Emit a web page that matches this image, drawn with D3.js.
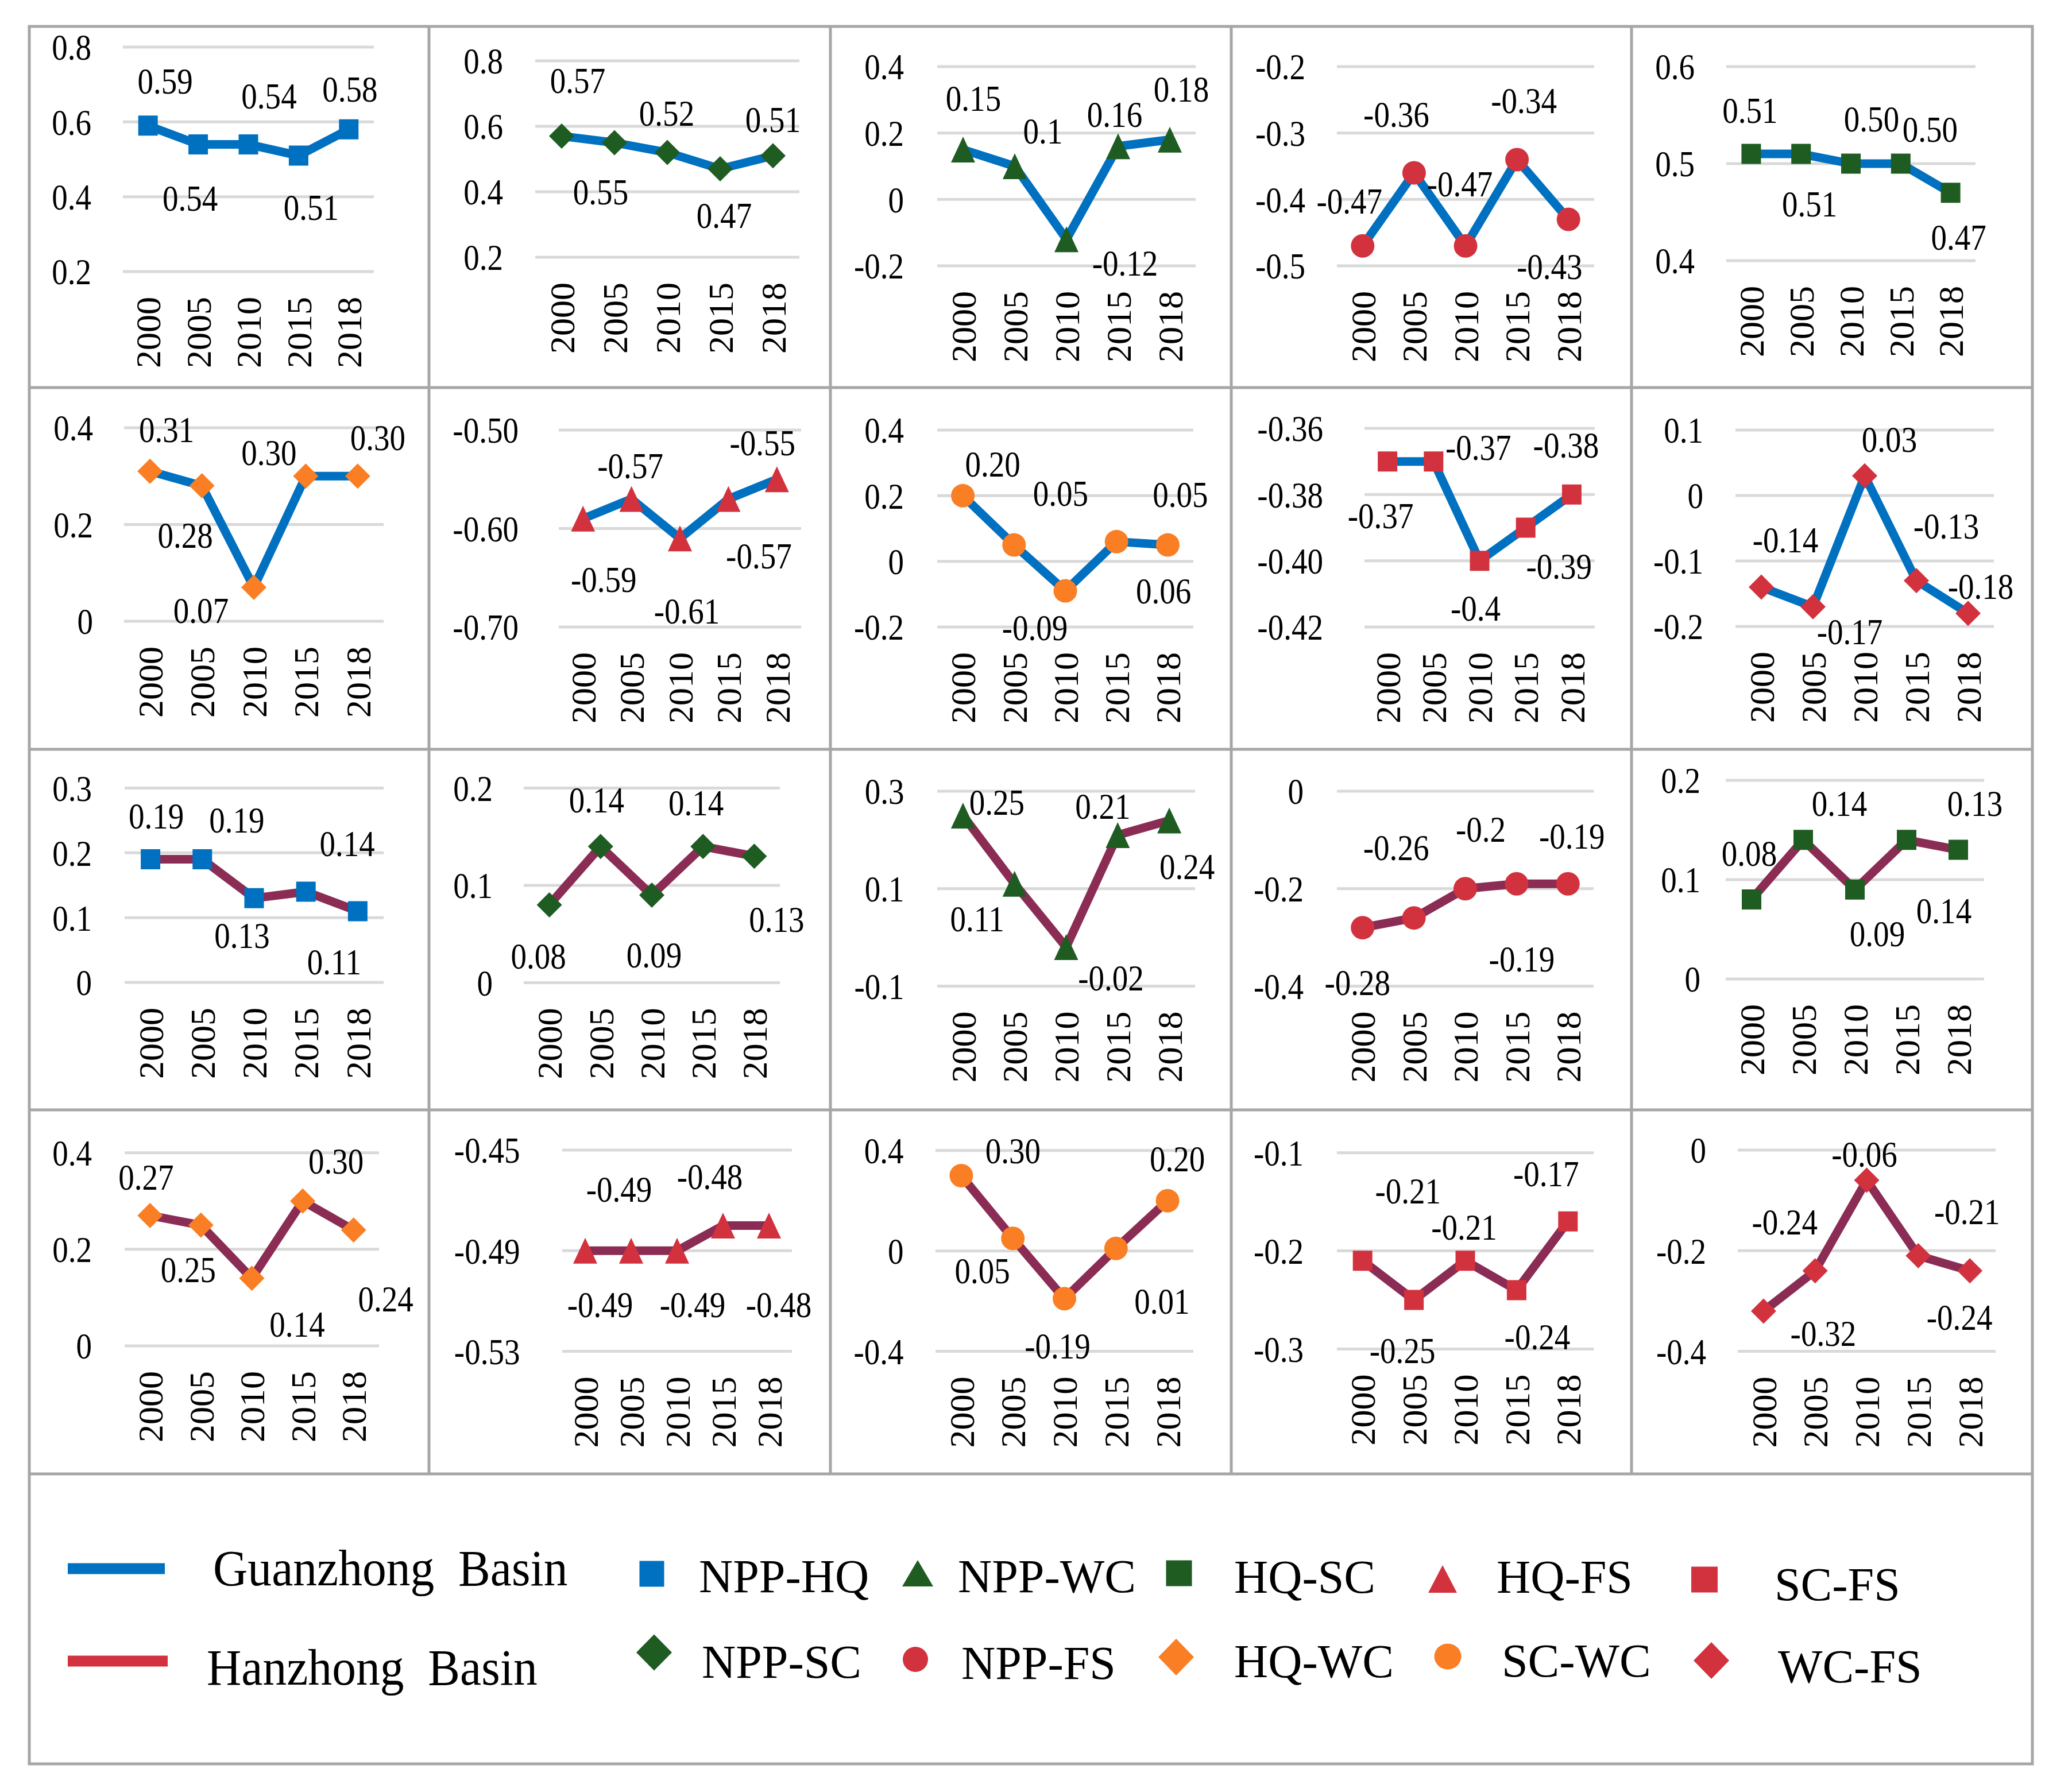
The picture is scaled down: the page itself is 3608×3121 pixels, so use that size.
<!DOCTYPE html>
<html><head><meta charset="utf-8">
<script src="https://cdn.jsdelivr.net/npm/d3@7/dist/d3.min.js"></script>
<style>html,body{margin:0;padding:0;background:#fff}svg{display:block}</style>
</head><body>
<svg id="chart" width="3608" height="3121"></svg>
<script>
// ---------------- DATA ----------------
const years = ["2000", "2005", "2010", "2015", "2018"];
const basins = ["Guanzhong Basin", "Hanzhong Basin"];
const pairNames = ["NPP-HQ", "NPP-WC", "HQ-SC", "HQ-FS", "SC-FS", "NPP-SC", "NPP-FS", "HQ-WC", "SC-WC", "WC-FS"];
// pair shown in each panel column (rows 1 & 3 / rows 2 & 4)
const colPairsA = ["NPP-HQ", "NPP-SC", "NPP-WC", "NPP-FS", "HQ-SC"];
const colPairsB = ["HQ-WC", "HQ-FS", "SC-WC", "SC-FS", "WC-FS"];

// Guanzhong Basin (rows 1-2)
const guanzhongRow1 = [
  ["0.59", "0.54", "0.54", "0.51", "0.58"],
  ["0.57", "0.55", "0.52", "0.47", "0.51"],
  ["0.15", "0.1", "-0.12", "0.16", "0.18"],
  ["-0.47", "-0.36", "-0.47", "-0.34", "-0.43"],
  ["0.51", "0.51", "0.50", "0.50", "0.47"]
];
const guanzhongRow2 = [
  ["0.31", "0.28", "0.07", "0.30", "0.30"],
  ["-0.59", "-0.57", "-0.61", "-0.57", "-0.55"],
  ["0.20", "0.05", "-0.09", "0.06", "0.05"],
  ["-0.37", "-0.37", "-0.4", "-0.39", "-0.38"],
  ["-0.14", "-0.17", "0.03", "-0.13", "-0.18"]
];
// Hanzhong Basin (rows 3-4)
const hanzhongRow3 = [
  ["0.19", "0.19", "0.13", "0.14", "0.11"],
  ["0.08", "0.14", "0.09", "0.14", "0.13"],
  ["0.25", "0.11", "-0.02", "0.21", "0.24"],
  ["-0.28", "-0.26", "-0.2", "-0.19", "-0.19"],
  ["0.08", "0.14", "0.09", "0.14", "0.13"]
];
const hanzhongRow4 = [
  ["0.27", "0.25", "0.14", "0.30", "0.24"],
  ["-0.49", "-0.49", "-0.49", "-0.48", "-0.48"],
  ["0.30", "0.05", "-0.19", "0.01", "0.20"],
  ["-0.21", "-0.25", "-0.21", "-0.24", "-0.17"],
  ["-0.32", "-0.24", "-0.06", "-0.21", "-0.24"]
];

// y-axis tick labels per panel
const ticksRow1 = [["0.8","0.6","0.4","0.2"], ["0.8","0.6","0.4","0.2"], ["0.4","0.2","0","-0.2"], ["-0.2","-0.3","-0.4","-0.5"], ["0.6","0.5","0.4"]];
const ticksRow2 = [["0.4","0.2","0"], ["-0.50","-0.60","-0.70"], ["0.4","0.2","0","-0.2"], ["-0.36","-0.38","-0.40","-0.42"], ["0.1","0","-0.1","-0.2"]];
const ticksRow3 = [["0.3","0.2","0.1","0"], ["0.2","0.1","0"], ["0.3","0.1","-0.1"], ["0","-0.2","-0.4"], ["0.2","0.1","0"]];
const ticksRow4 = [["0.4","0.2","0"], ["-0.45","-0.49","-0.53"], ["0.4","0","-0.4"], ["-0.1","-0.2","-0.3"], ["0","-0.2","-0.4"]];

// ---------------- STYLE / LAYOUT ----------------
const COL = {blue: "#0070C0", maroon: "#8B2C55", red: "#D2323D", green: "#1E5C22", orange: "#FA7E23", grid: "#D9D9D9", frame: "#A6A6A6"};
const pairShape = {"NPP-HQ": "square", "NPP-WC": "triangle", "HQ-SC": "square", "HQ-FS": "triangle", "SC-FS": "square",
                   "NPP-SC": "diamond", "NPP-FS": "circle", "HQ-WC": "diamond", "SC-WC": "circle", "WC-FS": "diamond"};
const pairColor = {"NPP-HQ": COL.blue, "NPP-WC": COL.green, "HQ-SC": COL.green, "HQ-FS": COL.red, "SC-FS": COL.red,
                   "NPP-SC": COL.green, "NPP-FS": COL.red, "HQ-WC": COL.orange, "SC-WC": COL.orange, "WC-FS": COL.red};
const basinLineColor = [COL.blue, COL.maroon];
const basinLegendColor = [COL.blue, COL.red];

const FONT = "'Liberation Serif','Times New Roman',Times,serif";
const contentX = [51, 751, 1451, 2154, 2854];
const contentY = [46, 677, 1308, 1941];
const dividersX = [51, 747, 1446, 2144, 2841, 3539];
const dividersY = [46, 675, 1305, 1933, 2567, 3072];

// per panel: [gridLeft, gridRight, gridTop, gridBottom, tickRight]
const plotBox = [
  [163,600,36,427,108], [181,641,60,402,125], [181,631,70,417,123], [174,622,70,417,119], [152,586,70,408,97],
  [165,617,68,405,111], [222,644,72,415,152], [181,627,72,415,123], [222,623,69,415,150], [168,618,72,414,112],
  [166,617,64.5,403,109], [161,607,64.5,403.5,107], [181,630,70,409.5,123.5], [174,621,70,409.5,116], [151,601,51,397,107],
  [166,609,66.7,403,109], [228,628,62,412.6,154.5], [178,627,62.7,412.6,122.6], [174,621,66.7,408.5,116], [172,621,62,412.6,117]
];
// data label offsets (px from marker)
const labelOffsets = [
  [[30,-78],[-14,93],[36,-85],[22,90],[2,-71]],
  [[28,-98],[-24,85],[-1,-69],[7,80],[0,-64]],
  [[18,-90],[49,-62],[102,41],[-6,-56],[20,-89]],
  [[-23,-79],[-31,-102],[-10,-109],[12,-103],[-33,82]],
  [[-2,-77],[15,86],[36,-78],[51,-60],[14,77]],
  [[29,-73],[-29,85],[-92,40],[-64,-42],[35,-68]],
  [[36,105],[-2,-58],[12,126],[53,99],[-25,-64]],
  [[52,-56],[81,-90],[-53,63],[82,85],[22,-88]],
  [[-12,94],[78,-25],[-7,82],[58,67],[-10,-87]],
  [[42,-83],[64,43],[43,-64],[52,-96],[22,-48]],
  [[10,-76],[60,-69],[-21,64],[72,-84],[-41,88]],
  [[-19,89],[-7,-82],[4,104],[-12,-77],[39,109]],
  [[59,-24],[-65,60],[78,53],[-26,-51],[31,80]],
  [[-9,95],[-31,-123],[27,-104],[9,130],[7,-84]],
  [[-4,-81],[63,-64],[39,76],[65,123],[29,-82]],
  [[-7,-67],[-22,77],[79,79],[58,-70],[56,119]],
  [[26,93],[-21,-108],[27,93],[-23,-86],[17,137]],
  [[90,-44],[-53,56],[-12,82],[80,91],[17,-74]],
  [[79,-122],[-20,88],[-2,-59],[36,81],[-38,-84]],
  [[104,38],[-53,-86],[-4,-46],[85,-77],[-18,80]]
];

// ---------------- HELPERS ----------------
function shapePath(shape, w, h) {
  const a = w / 2, b = h / 2;
  if (shape === "square") return `M${-a},${-b}H${a}V${b}H${-a}Z`;
  if (shape === "diamond") return `M0,${-b}L${a},0L0,${b}L${-a},0Z`;
  if (shape === "triangle") return `M0,${-b}L${a},${b}L${-a},${b}Z`;
  return `M${-a},0A${a},${b} 0 1,0 ${a},0A${a},${b} 0 1,0 ${-a},0Z`;
}
const markerSize = {square: [34, 35], diamond: [44, 44], triangle: [42, 45], circle: [41, 41]};

function hText(g, x, y, s, anchor, size, sx) {
  return g.append("text")
    .attr("transform", `translate(${x},${y}) scale(${sx},1)`)
    .attr("text-anchor", anchor)
    .attr("dy", "0.35em")
    .attr("font-family", FONT)
    .attr("font-size", size)
    .attr("fill", "#000")
    .text(s);
}

// ---------------- DRAW ----------------
const svg = d3.select("#chart");
svg.append("rect").attr("width", 3608).attr("height", 3121).attr("fill", "#fff");

const rowsData = [guanzhongRow1, guanzhongRow2, hanzhongRow3, hanzhongRow4];
const rowsTicks = [ticksRow1, ticksRow2, ticksRow3, ticksRow4];

rowsData.forEach((rowVals, r) => {
  const basin = r < 2 ? 0 : 1;
  const pairs = r % 2 === 0 ? colPairsA : colPairsB;
  rowVals.forEach((labels, c) => {
    const idx = r * 5 + c;
    const [gl, gr, gt, gb, tr] = plotBox[idx];
    const ticks = rowsTicks[r][c];
    const tickVals = ticks.map(Number);
    const values = labels.map(Number);
    const g = svg.append("g").attr("transform", `translate(${contentX[c]},${contentY[r]})`);

    const x = d3.scaleBand().domain(years).range([gl, gr]);
    const y = d3.scaleLinear().domain([d3.min(tickVals), d3.max(tickVals)]).range([gb, gt]);
    const cx = d => x(d) + x.bandwidth() / 2;

    g.selectAll(".grid").data(tickVals).enter().append("line")
      .attr("x1", gl).attr("x2", gr)
      .attr("y1", d => y(d)).attr("y2", d => y(d))
      .attr("stroke", COL.grid).attr("stroke-width", 5);

    ticks.forEach((t, i) => hText(g, tr, y(tickVals[i]), t, "end", 64, 0.86));

    years.forEach(yr => {
      g.append("text")
        .attr("transform", `translate(${cx(yr)},${gb + 44}) rotate(-90)`)
        .attr("text-anchor", "end")
        .attr("dy", "0.35em")
        .attr("font-family", FONT)
        .attr("font-size", 62)
        .text(yr);
    });

    const pts = years.map((yr, i) => [cx(yr), y(values[i])]);
    g.append("path")
      .attr("d", d3.line()(pts))
      .attr("fill", "none")
      .attr("stroke", basinLineColor[basin])
      .attr("stroke-width", 15)
      .attr("stroke-linejoin", "round");

    const pair = pairs[c];
    const shp = pairShape[pair];
    const [mw, mh] = markerSize[shp];
    g.selectAll(".mk").data(pts).enter().append("path")
      .attr("transform", d => `translate(${d[0]},${d[1]})`)
      .attr("d", shapePath(shp, mw, mh))
      .attr("fill", pairColor[pair]);

    pts.forEach((p, i) => {
      const [dx, dy] = labelOffsets[idx][i];
      hText(g, p[0] + dx, p[1] + dy, labels[i], "middle", 64, 0.86);
    });
  });
});

// frame
const frame = svg.append("g").attr("stroke", COL.frame).attr("stroke-width", 5).attr("fill", "none");
frame.append("rect").attr("x", dividersX[0]).attr("y", dividersY[0])
  .attr("width", dividersX[5] - dividersX[0]).attr("height", dividersY[5] - dividersY[0]);
dividersX.slice(1, 5).forEach(xv => frame.append("line").attr("x1", xv).attr("x2", xv).attr("y1", dividersY[0]).attr("y2", dividersY[4]));
dividersY.slice(1, 5).forEach(yv => frame.append("line").attr("x1", dividersX[0]).attr("x2", dividersX[5]).attr("y1", yv).attr("y2", yv));

// ---------------- LEGEND ----------------
const lg = svg.append("g");
const basinLegendPos = [[118, 287, 2732, 371, 2761], [118, 292, 2893, 360, 2934]];
basins.forEach((b, i) => {
  const [x1, x2, ly, tx, ty] = basinLegendPos[i];
  lg.append("line").attr("x1", x1).attr("x2", x2).attr("y1", ly).attr("y2", ly)
    .attr("stroke", basinLegendColor[i]).attr("stroke-width", 19);
  lg.append("text")
    .attr("transform", `translate(${tx},${ty}) scale(0.95,1)`)
    .attr("font-family", FONT).attr("font-size", 88)
    .attr("xml:space", "preserve").style("white-space", "pre")
    .text(b.replace(" ", "  "));
});
// [markerX, markerY, w, h, textX, baseline]
const legendPos = {
  "NPP-HQ": [1135, 2741, 43, 45, 1217, 2773],
  "NPP-WC": [1598, 2740, 54, 46, 1668, 2773],
  "HQ-SC":  [2053, 2740, 45, 45, 2149, 2774],
  "HQ-FS":  [2512, 2750, 50, 48, 2606, 2774],
  "SC-FS":  [2968, 2751, 46, 45, 3090, 2787],
  "NPP-SC": [1139, 2878, 62, 63, 1222, 2922],
  "NPP-FS": [1594, 2890, 44, 44, 1674, 2924],
  "HQ-WC":  [2048, 2886, 62, 64, 2149, 2921],
  "SC-WC":  [2521, 2885, 47, 45, 2615, 2920],
  "WC-FS":  [2980, 2892, 62, 64, 3096, 2930]
};
pairNames.forEach(p => {
  const [mx, my, w, h, tx, ty] = legendPos[p];
  lg.append("path").attr("transform", `translate(${mx},${my})`)
    .attr("d", shapePath(pairShape[p], w, h)).attr("fill", pairColor[p]);
  lg.append("text").attr("x", tx).attr("y", ty)
    .attr("font-family", FONT).attr("font-size", 82).text(p);
});
</script>
</body></html>
